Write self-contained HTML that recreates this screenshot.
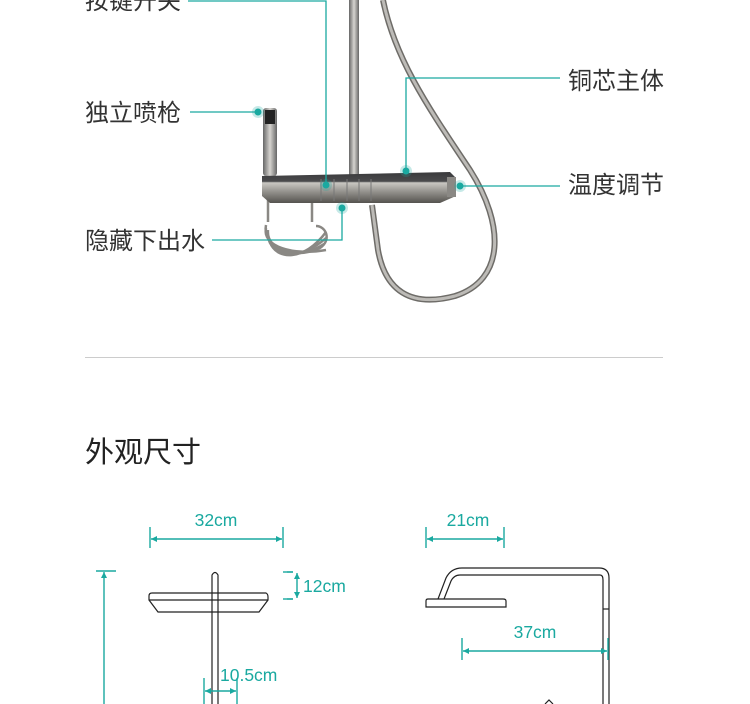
<!DOCTYPE html>
<html><head><meta charset="utf-8"><style>
html,body{margin:0;padding:0;background:#fff;width:750px;height:704px;overflow:hidden}
svg{display:block}
text{font-family:"Liberation Sans","Noto Sans CJK SC",sans-serif}
</style></head><body>
<svg width="750" height="704" viewBox="0 0 750 704" xmlns="http://www.w3.org/2000/svg">
<defs>
<linearGradient id="bar" x1="0" y1="0" x2="0" y2="1">
<stop offset="0" stop-color="#3a3a3c"/><stop offset="0.3" stop-color="#4a4a4c"/><stop offset="0.35" stop-color="#c9c7c2"/><stop offset="0.6" stop-color="#9a9893"/><stop offset="1" stop-color="#55534f"/></linearGradient>
<linearGradient id="pipe" x1="0" y1="0" x2="1" y2="0">
<stop offset="0" stop-color="#666"/><stop offset="0.5" stop-color="#d6d4d0"/><stop offset="1" stop-color="#666"/></linearGradient>
</defs>
<g fill="#333" font-size="24">
<text x="85" y="9">按键开关</text>
<text x="85" y="121">独立喷枪</text>
<text x="85" y="249">隐藏下出水</text>
<text x="568" y="89">铜芯主体</text>
<text x="568" y="193">温度调节</text>
</g>
<!-- hose -->
<path d="M383 0 C395 60 430 110 470 170 C505 225 505 280 455 296 C410 308 385 290 378 250 L372 205" fill="none" stroke="#6e6c68" stroke-width="6"/>
<path d="M383 0 C395 60 430 110 470 170 C505 225 505 280 455 296 C410 308 385 290 378 250 L372 205" fill="none" stroke="#bdbbb7" stroke-width="3"/>
<!-- pole -->
<rect x="349" y="0" width="10" height="176" fill="url(#pipe)"/>
<!-- handheld -->
<rect x="263" y="108" width="14" height="68" rx="3" fill="url(#pipe)"/>
<rect x="265" y="110" width="10" height="14" fill="#222"/>
<!-- coil -->
<g fill="none" stroke="#8a8884" stroke-width="2.5">
<path d="M268 200 L268 222"/><path d="M312 200 L312 222"/>
<path d="M266 225 C262 245 290 262 320 248 C332 240 326 226 316 226"/>
<path d="M268 230 C266 250 296 262 324 244"/>
<path d="M268 236 C270 256 300 262 326 238"/>
<path d="M270 242 C276 260 304 262 326 232"/>
<path d="M266 228 C262 246 292 256 326 250"/>
</g>
<!-- bar -->
<path d="M262 176 L450 172 L456 178 L456 196 L440 203 L270 203 L262 196 Z" fill="url(#bar)"/>
<g stroke="#777" stroke-width="1"><line x1="321" y1="179" x2="321" y2="201"/><line x1="334" y1="179" x2="334" y2="201"/><line x1="347" y1="179" x2="347" y2="201"/><line x1="359" y1="179" x2="359" y2="201"/><line x1="371" y1="179" x2="371" y2="201"/></g>
<rect x="447" y="177" width="9" height="20" fill="#8a8884"/>
<!-- callouts -->
<g stroke="#1aa9a0" stroke-width="1.3" fill="none">
<path d="M188 1 L326 1 L326 185"/>
<path d="M190 112 L257 112"/>
<path d="M212 240 L342 240 L342 208"/>
<path d="M560 78 L406 78 L406 171"/>
<path d="M560 186 L460 186"/>
</g>
<g fill="#1aa9a0">
<circle cx="326" cy="185" r="6" opacity="0.25"/><circle cx="326" cy="185" r="3.5"/>
<circle cx="258" cy="112" r="6" opacity="0.25"/><circle cx="258" cy="112" r="3.5"/>
<circle cx="342" cy="208" r="6" opacity="0.25"/><circle cx="342" cy="208" r="3.5"/>
<circle cx="406" cy="171" r="6" opacity="0.25"/><circle cx="406" cy="171" r="3.5"/>
<circle cx="460" cy="186" r="6" opacity="0.25"/><circle cx="460" cy="186" r="3.5"/>
</g>
<line x1="85" y1="357.5" x2="663" y2="357.5" stroke="#ccc" stroke-width="1"/>
<text x="85" y="462" font-size="29" fill="#222">外观尺寸</text>
<!-- dimension drawings -->
<g stroke="#222" stroke-width="1.2" fill="none">
<path d="M212 704 L212 575 Q215 570 218 575 L218 704"/>
<path d="M152 593 L266 593 Q268 594 268 597 L268 600 L259 612 L158 612 L149 600 L149 596 Q149 593 152 593 Z"/>
<line x1="149" y1="600" x2="268" y2="600"/>
<path d="M426 607 L506 607 L506 601 Q506 599 503 599 L428 599 Q426 599 426 601 Z"/>
<path d="M438 599 L446 578 Q451 568 462 568 L599 568 Q609 568 609 578 L609 704"/>
<path d="M444 599 L451 581 Q454 575 460 575 L600 575 Q603 575 603 580 L603 704"/>
<line x1="603" y1="609" x2="609" y2="609"/>
<path d="M545 704 L549 700 L553 704"/>
</g>
<g stroke="#1aa9a0" stroke-width="1.4" fill="none">
<line x1="150" y1="527" x2="150" y2="548"/><line x1="283" y1="527" x2="283" y2="548"/><line x1="151" y1="539" x2="282" y2="539"/>
<line x1="426" y1="527" x2="426" y2="548"/><line x1="504" y1="527" x2="504" y2="548"/><line x1="427" y1="539" x2="503" y2="539"/>
<line x1="96" y1="571" x2="116" y2="571"/><line x1="104" y1="572" x2="104" y2="704"/>
<line x1="287" y1="572" x2="293" y2="572"/><line x1="287" y1="599" x2="293" y2="599"/><line x1="297" y1="573" x2="297" y2="598"/>
<line x1="283" y1="572" x2="293" y2="572"/><line x1="283" y1="599" x2="293" y2="599"/>
<line x1="204" y1="678" x2="204" y2="704"/><line x1="237" y1="678" x2="237" y2="704"/><line x1="205" y1="691" x2="236" y2="691"/>
<line x1="462" y1="638" x2="462" y2="660"/><line x1="608" y1="638" x2="608" y2="660"/><line x1="463" y1="651" x2="607" y2="651"/>
</g>
<g fill="#1aa9a0">
<path d="M151 539 l6 -3 v6z"/><path d="M282 539 l-6 -3 v6z"/>
<path d="M427 539 l6 -3 v6z"/><path d="M503 539 l-6 -3 v6z"/>
<path d="M104 572 l-3 6 h6z"/>
<path d="M297 573 l-3 6 h6z"/><path d="M297 598 l-3 -6 h6z"/>
<path d="M205 691 l6 -3 v6z"/><path d="M236 691 l-6 -3 v6z"/>
<path d="M463 651 l6 -3 v6z"/><path d="M607 651 l-6 -3 v6z"/>
</g>
<g fill="#1aa9a0" font-size="17.5">
<text x="216" y="526" text-anchor="middle">32cm</text>
<text x="468" y="526" text-anchor="middle">21cm</text>
<text x="303" y="592">12cm</text>
<text x="535" y="638" text-anchor="middle">37cm</text>
<text x="220" y="681">10.5cm</text>
</g>
</svg>
</body></html>
